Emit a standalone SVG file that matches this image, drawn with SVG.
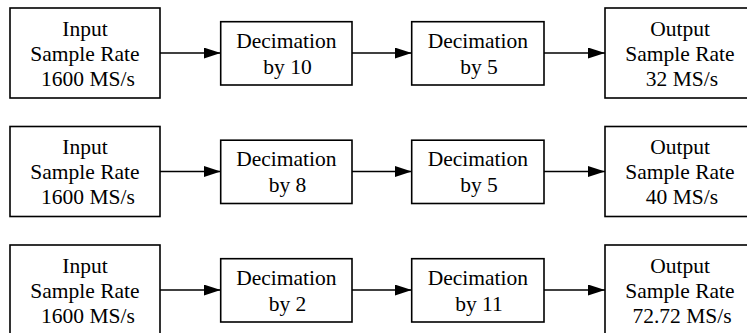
<svg xmlns="http://www.w3.org/2000/svg" width="747" height="333" viewBox="0 0 747 333">
  <style>
    .box { fill: #ffffff; stroke: #000000; stroke-width: 1.6; }
    .lbl { font-family: "Liberation Serif", "Times New Roman", serif; font-size: 21.5px; fill: #000000; text-anchor: middle; }
    .wire { stroke: #000000; stroke-width: 1.6; fill: none; marker-end: url(#arrow); }
  </style>
  <defs>
    <marker id="arrow" markerUnits="userSpaceOnUse" markerWidth="18" markerHeight="12" refX="17" refY="5.5" orient="auto">
      <path d="M0,0 L17,5.5 L0,11 Z" fill="#000000"/>
    </marker>
  </defs>
  <rect width="747" height="333" fill="#ffffff"/>

  <!-- Row 1: 1600 MS/s -> /10 -> /5 -> 32 MS/s -->
  <g id="in1">
    <rect class="box" x="10" y="8" width="150" height="90"/>
    <text class="lbl" x="85" y="35.5">Input</text>
    <text class="lbl" x="85" y="60.5">Sample Rate</text>
    <text class="lbl" x="88" y="85.5">1600 MS/s</text>
  </g>
  <g id="dec1a">
    <rect class="box" x="220.7" y="21.7" width="131.3" height="63.3"/>
    <text class="lbl" x="286.3" y="47.7">Decimation</text>
    <text class="lbl" x="287.5" y="73.5">by 10</text>
  </g>
  <g id="dec1b">
    <rect class="box" x="411.7" y="21.7" width="132.3" height="63.3"/>
    <text class="lbl" x="477.8" y="47.7">Decimation</text>
    <text class="lbl" x="479" y="73.5">by 5</text>
  </g>
  <g id="out1">
    <rect class="box" x="605" y="8" width="150" height="90"/>
    <text class="lbl" x="680" y="35.5">Output</text>
    <text class="lbl" x="680" y="60.5">Sample Rate</text>
    <text class="lbl" x="682" y="85.5">32 MS/s</text>
  </g>

  <!-- Row 2: 1600 MS/s -> /8 -> /5 -> 40 MS/s -->
  <g id="in2">
    <rect class="box" x="10" y="126.5" width="150" height="90"/>
    <text class="lbl" x="85" y="154">Input</text>
    <text class="lbl" x="85" y="179">Sample Rate</text>
    <text class="lbl" x="88" y="204">1600 MS/s</text>
  </g>
  <g id="dec2a">
    <rect class="box" x="220.7" y="140.2" width="131.3" height="63.3"/>
    <text class="lbl" x="286.3" y="166.2">Decimation</text>
    <text class="lbl" x="287.5" y="192">by 8</text>
  </g>
  <g id="dec2b">
    <rect class="box" x="411.7" y="140.2" width="132.3" height="63.3"/>
    <text class="lbl" x="477.8" y="166.2">Decimation</text>
    <text class="lbl" x="479" y="192">by 5</text>
  </g>
  <g id="out2">
    <rect class="box" x="605" y="126.5" width="150" height="90"/>
    <text class="lbl" x="680" y="154">Output</text>
    <text class="lbl" x="680" y="179">Sample Rate</text>
    <text class="lbl" x="682" y="204">40 MS/s</text>
  </g>

  <!-- Row 3: 1600 MS/s -> /2 -> /11 -> 72.72 MS/s -->
  <g id="in3">
    <rect class="box" x="10" y="245" width="150" height="90"/>
    <text class="lbl" x="85" y="272.5">Input</text>
    <text class="lbl" x="85" y="297.5">Sample Rate</text>
    <text class="lbl" x="88" y="322.5">1600 MS/s</text>
  </g>
  <g id="dec3a">
    <rect class="box" x="220.7" y="258.7" width="131.3" height="63.3"/>
    <text class="lbl" x="286.3" y="284.7">Decimation</text>
    <text class="lbl" x="287.5" y="310.5">by 2</text>
  </g>
  <g id="dec3b">
    <rect class="box" x="411.7" y="258.7" width="132.3" height="63.3"/>
    <text class="lbl" x="477.8" y="284.7">Decimation</text>
    <text class="lbl" x="479" y="310.5">by 11</text>
  </g>
  <g id="out3">
    <rect class="box" x="605" y="245" width="150" height="90"/>
    <text class="lbl" x="680" y="272.5">Output</text>
    <text class="lbl" x="680" y="297.5">Sample Rate</text>
    <text class="lbl" x="682" y="322.5">72.72 MS/s</text>
  </g>

  <g id="connectors">
    <line class="wire" x1="160" y1="53" x2="220.7" y2="53"/>
    <line class="wire" x1="352" y1="53" x2="411.7" y2="53"/>
    <line class="wire" x1="544" y1="53" x2="605" y2="53"/>
    <line class="wire" x1="160" y1="171.5" x2="220.7" y2="171.5"/>
    <line class="wire" x1="352" y1="171.5" x2="411.7" y2="171.5"/>
    <line class="wire" x1="544" y1="171.5" x2="605" y2="171.5"/>
    <line class="wire" x1="160" y1="290" x2="220.7" y2="290"/>
    <line class="wire" x1="352" y1="290" x2="411.7" y2="290"/>
    <line class="wire" x1="544" y1="290" x2="605" y2="290"/>
  </g>
</svg>
